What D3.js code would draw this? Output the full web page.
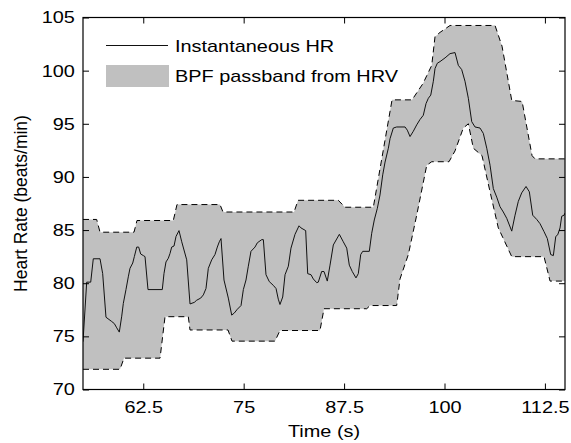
<!DOCTYPE html>
<html>
<head>
<meta charset="utf-8">
<script src="https://cdn.jsdelivr.net/npm/d3@7"></script>
<style>
  body { margin: 0; background: #fff; }
  text { font-family: "Liberation Sans", Arial, sans-serif; fill: #000; }
</style>
</head>
<body>
<div class="chart"></div>
<script>
// instantaneous heart rate
var hrTime = [55.0, 55.46, 55.96, 56.28, 57.12, 57.45, 57.86, 58.57, 58.9, 59.2, 59.52, 59.82, 60.02, 60.35, 60.64, 60.85,
  61.19, 61.39, 61.69, 61.93, 62.18, 62.51, 62.72, 63.09, 64.87, 65.08, 65.33, 65.62, 65.83, 66.04, 66.33, 66.58,
  66.95, 67.29, 67.91, 68.32, 68.86, 69.15, 69.65, 69.98, 70.31, 70.6, 71.02, 71.43, 71.72, 71.97, 72.18, 72.55,
  73.09, 73.51, 73.84, 74.21, 74.67, 74.96, 75.29, 75.58, 75.91, 76.41, 76.7, 77.25, 77.45, 77.78, 78.19, 78.69,
  79.03, 79.31, 79.52, 79.86, 80.15, 80.56, 80.89, 81.39, 81.89, 82.14, 82.72, 82.97, 83.38, 83.67, 84.09, 84.29,
  84.71, 85.0, 85.41, 85.75, 86.16, 86.91, 87.4, 87.83, 88.15, 88.52, 88.98, 89.27, 89.57, 89.82, 90.64, 90.94,
  91.26, 91.64, 91.97, 92.31, 92.6, 93.01, 93.22, 93.63, 94.05, 95.09, 95.37, 95.71, 96.12, 96.54, 96.95, 97.36,
  97.7, 97.99, 98.29, 98.61, 98.82, 99.11, 99.44, 100.07, 100.69, 101.31, 101.72, 102.14, 102.55, 102.97, 103.39,
  103.8, 104.42, 104.83, 105.26, 105.67, 106.08, 106.5, 106.91, 107.32, 107.75, 108.37, 108.78, 109.19, 109.61,
  110.15, 110.56, 110.98, 111.48, 111.89, 112.39, 112.8, 113.22, 113.55, 113.85, 114.09, 114.38, 114.59, 114.88, 115.0];
var hrValue = [74.5, 80.1, 80.1, 82.3, 82.3, 80.9, 76.8, 76.4, 76.2, 75.8, 75.4, 76.9, 78.1, 79.4, 80.6, 81.4,
  81.9, 82.5, 83.4, 83.4, 82.75, 82.6, 82.5, 79.4, 79.4, 80.9, 82.0, 82.35, 82.8, 83.4, 83.5, 84.4,
  84.95, 83.9, 82.2, 78.05, 78.2, 78.4, 78.6, 78.9, 79.5, 81.4, 82.2, 82.7, 83.4, 83.9, 84.2, 80.3,
  78.6, 77.0, 77.2, 77.55, 77.9, 79.4, 80.3, 81.6, 83.0, 83.4, 83.8, 84.1, 84.1, 80.8, 80.15, 79.8,
  79.5, 78.5, 78.0, 78.7, 80.8, 81.6, 83.3, 84.6, 85.4, 85.2, 84.95, 80.9, 80.8, 80.4, 80.05, 80.1,
  81.1, 81.1, 80.2, 81.7, 83.6, 84.6, 83.9, 83.3, 81.7, 81.1, 80.5, 80.9, 82.7, 83.0, 83.0, 84.7,
  85.95, 87.05, 88.3, 90.2, 91.4, 92.7, 93.6, 94.6, 94.7, 94.7, 94.4, 93.8, 94.3, 94.9, 95.4, 95.8,
  96.9, 97.4, 97.7, 99.0, 100.2, 100.7, 100.85, 101.2, 101.6, 101.7, 100.5, 100.1, 99.0, 97.4, 95.2,
  94.7, 94.6, 94.1, 92.7, 91.1, 88.9, 88.1, 87.2, 86.7, 86.1, 84.9, 86.4, 87.7, 88.5,
  89.1, 88.6, 86.4, 86.0, 85.6, 84.85, 84.2, 82.7, 82.6, 84.4, 84.55, 85.2, 86.3, 86.4, 86.6];

// band pass filter passband, upper edge
var upTime = [55.0, 56.7, 57.12, 61.35, 61.72, 66.24, 66.7, 72.05, 72.43, 81.27, 81.77, 86.78, 87.62, 91.14,
  93.47, 95.96, 97.33, 98.41, 98.82, 99.44, 100.69, 106.29, 107.16, 107.78, 108.37, 109.66, 110.9, 111.27, 115.0];
var upValue = [86.0, 86.0, 84.8, 84.8, 85.9, 85.9, 87.4, 87.4, 86.7, 86.7, 87.8, 87.8, 87.15, 87.15,
  97.25, 97.25, 98.8, 100.5, 103.2, 103.6, 104.25, 104.25, 102.3, 99.7, 97.2, 97.1, 92.0, 91.7, 91.7];

// lower edge
var lowTime = [55.0, 59.61, 60.1, 64.59, 65.21, 68.11, 68.32, 73.05, 73.55, 78.9, 79.52, 84.5, 85.0, 90.32,
  90.73, 94.05, 94.46, 95.5, 96.54, 97.79, 98.41, 100.56, 101.31, 102.34, 102.97, 103.59, 104.67, 105.67,
  106.7, 108.37, 112.39, 113.14, 115.0];
var lowValue = [71.9, 71.9, 72.95, 72.95, 76.85, 76.85, 75.6, 75.6, 74.55, 74.55, 75.55, 75.55, 77.6, 77.6,
  77.9, 77.9, 80.4, 82.7, 86.4, 91.1, 91.43, 91.43, 92.45, 94.6, 95.0, 92.7, 92.0, 88.6,
  85.2, 82.5, 82.5, 80.2, 80.2];

var xTicks = [62.5, 75, 87.5, 100, 112.5];
var yTicks = [70, 75, 80, 85, 90, 95, 100, 105];

var svgWidth = 571;
var svgHeight = 443;
var margin = {top: 17.5, right: 6, bottom: 53.5, left: 83};
var width = svgWidth - margin.left - margin.right;
var height = svgHeight - margin.top - margin.bottom;

var fontSize = "17px";
var stretch = "scale(1.17,1)"; // the original export is a bit wider than tall

var svg = d3.select(".chart")
  .append("svg")
  .attr("width", svgWidth)
  .attr("height", svgHeight);

var chart = svg.append("g")
  .attr("transform", "translate(" + margin.left + "," + margin.top + ")");

var x = d3.scaleLinear().domain([55, 115]).range([0, width]);
var y = d3.scaleLinear().domain([70, 105]).range([height, 0]);

chart.append("clipPath").attr("id", "clip")
  .append("rect").attr("width", width).attr("height", height);

var upper = upTime.map(function(t, i) { return [t, upValue[i]]; });
var lower = lowTime.map(function(t, i) { return [t, lowValue[i]]; });
var hr = hrTime.map(function(t, i) { return [t, hrValue[i]]; });

var line = d3.line()
  .x(function(d) { return x(d[0]); })
  .y(function(d) { return y(d[1]); });

var plot = chart.append("g").attr("clip-path", "url(#clip)");

// gray band
plot.append("path")
  .attr("d", line(upper.concat(lower.slice().reverse())) + "Z")
  .attr("fill", "#c0c0c0")
  .attr("stroke", "none");

[upper, lower].forEach(function(edge) {
  plot.append("path")
    .attr("d", line(edge))
    .attr("fill", "none")
    .attr("stroke", "#000")
    .attr("stroke-width", 1)
    .attr("stroke-dasharray", "6,4");
});

plot.append("path")
  .attr("d", line(hr))
  .attr("fill", "none")
  .attr("stroke", "#111")
  .attr("stroke-width", 1);

// axes, matlab style box with inward ticks
var tickLen = 6;
var fmt = function(d) { return String(d); };
var xAxis = d3.axisBottom(x).tickValues(xTicks).tickFormat(fmt).tickSizeInner(-tickLen).tickSizeOuter(0).tickPadding(11);
var yAxis = d3.axisLeft(y).tickValues(yTicks).tickFormat(fmt).tickSizeInner(-tickLen).tickSizeOuter(0).tickPadding(7);

chart.append("g").attr("transform", "translate(0," + height + ")").call(xAxis);
chart.append("g").call(yAxis);
chart.append("g").call(d3.axisTop(x).tickValues(xTicks).tickSizeInner(-tickLen).tickSizeOuter(0).tickFormat(""));
chart.append("g").attr("transform", "translate(" + width + ",0)")
  .call(d3.axisRight(y).tickValues(yTicks).tickSizeInner(-tickLen).tickSizeOuter(0).tickFormat(""));

chart.selectAll(".domain").remove();
chart.selectAll(".tick line").attr("stroke", "#000");
chart.selectAll(".tick text")
  .style("font-size", fontSize)
  .attr("fill", "#000")
  .attr("transform", stretch);

chart.append("rect")
  .attr("width", width).attr("height", height)
  .attr("fill", "none").attr("stroke", "#000").attr("stroke-width", 1.2);

// axis labels
svg.append("text")
  .attr("transform", "translate(" + (margin.left + width / 2) + ",437) " + stretch)
  .attr("text-anchor", "middle")
  .style("font-size", fontSize)
  .text("Time (s)");

svg.append("text")
  .attr("transform", "translate(27," + (margin.top + height / 2) + ") scale(1.1,1) rotate(-90)")
  .attr("text-anchor", "middle")
  .style("font-size", "17.5px")
  .text("Heart Rate (beats/min)");

// legend
var legend = svg.append("g");
legend.append("line")
  .attr("x1", 106).attr("x2", 168).attr("y1", 45.5).attr("y2", 45.5)
  .attr("stroke", "#111").attr("stroke-width", 1);
legend.append("text")
  .attr("transform", "translate(175,52) " + stretch)
  .style("font-size", fontSize).text("Instantaneous HR");
legend.append("rect")
  .attr("x", 106).attr("y", 65).attr("width", 63).attr("height", 22)
  .attr("fill", "#c0c0c0");
legend.append("text")
  .attr("transform", "translate(175,82) " + stretch)
  .style("font-size", fontSize).text("BPF passband from HRV");
</script>
</body>
</html>
